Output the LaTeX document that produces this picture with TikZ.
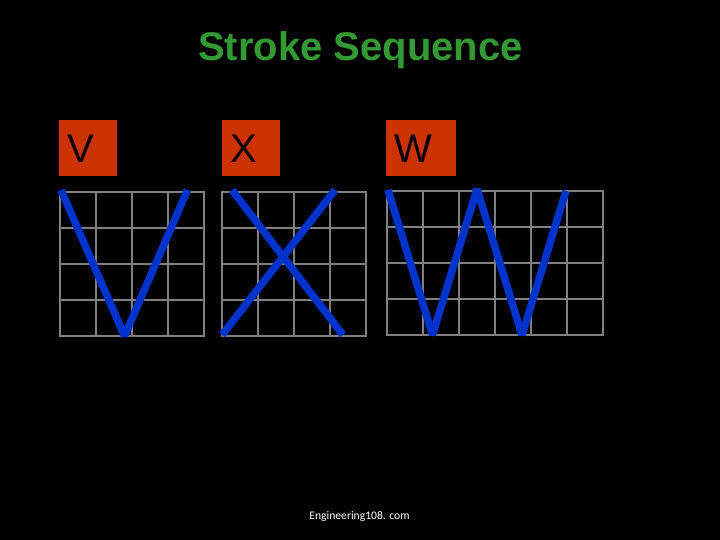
\documentclass[tikz,border=0pt]{standalone}
\usepackage{fontspec}
\setmainfont{Liberation Sans}
\newfontfamily\footfont{Carlito}
\definecolor{titlegreen}{RGB}{51,153,51}
\definecolor{boxorange}{RGB}{204,51,0}
\definecolor{gridgray}{RGB}{128,128,128}
\definecolor{strokeblue}{RGB}{0,51,204}
\tikzset{
  gridline/.style={draw=gridgray,line width=2pt,line cap=rect},
  penline/.style={draw=strokeblue,line width=7.5pt,line join=bevel,line cap=butt},
  letterlabel/.style={font=\fontsize{40}{40}\selectfont,text=black,anchor=base west,inner sep=0pt}
}
\begin{document}
\begin{tikzpicture}[x=1pt,y=-1pt]
\useasboundingbox (0,0) rectangle (720,540);
\fill[black] (0,0) rectangle (720,540);
\node[text=titlegreen,font=\fontsize{40}{44}\selectfont\bfseries,anchor=center] (title) at (360.5,50) {Stroke Sequence};
% boxes
\fill[boxorange] (59,120) rectangle (117,176);
\fill[boxorange] (222,120) rectangle (280,176);
\fill[boxorange] (386,120) rectangle (456,176);
\node[letterlabel] (lv) at (67,163) {V};
\node[letterlabel] (lx) at (230,163) {X};
\node[letterlabel] (lw) at (394,163) {W};
% grids
\foreach \i in {0,...,4} {
  \draw[gridline] (60+36*\i,192) -- (60+36*\i,336);
  \draw[gridline] (60,192+36*\i) -- (204,192+36*\i);
  \draw[gridline] (222+36*\i,192) -- (222+36*\i,336);
  \draw[gridline] (222,192+36*\i) -- (366,192+36*\i);
  \draw[gridline] (387,191+36*\i) -- (603,191+36*\i);
}
\foreach \i in {0,...,6} {
  \draw[gridline] (387+36*\i,191) -- (387+36*\i,335);
}
% strokes
\coordinate (v1) at (61,190);
\coordinate (v2) at (124.5,336);
\coordinate (v3) at (187.5,190);
\draw[penline] (v1) -- (v2) -- (v3);
\coordinate (xa1) at (232,190);
\coordinate (xa2) at (343,335);
\coordinate (xb1) at (335,190);
\coordinate (xb2) at (222,335);
\draw[penline] (xa1) -- (xa2);
\draw[penline] (xb1) -- (xb2);
\coordinate (w1) at (388,190);
\coordinate (w2) at (432.5,335);
\coordinate (w3) at (477,189);
\coordinate (w4) at (522,335);
\coordinate (w5) at (566,191);
\draw[penline] (w1) -- (w2) -- (w3) -- (w4) -- (w5);
\node[text=white,font=\footfont\fontsize{11.6}{14}\selectfont,anchor=center] (foot) at (359.5,516.5) {Engineering108. com};
\end{tikzpicture}
\end{document}
